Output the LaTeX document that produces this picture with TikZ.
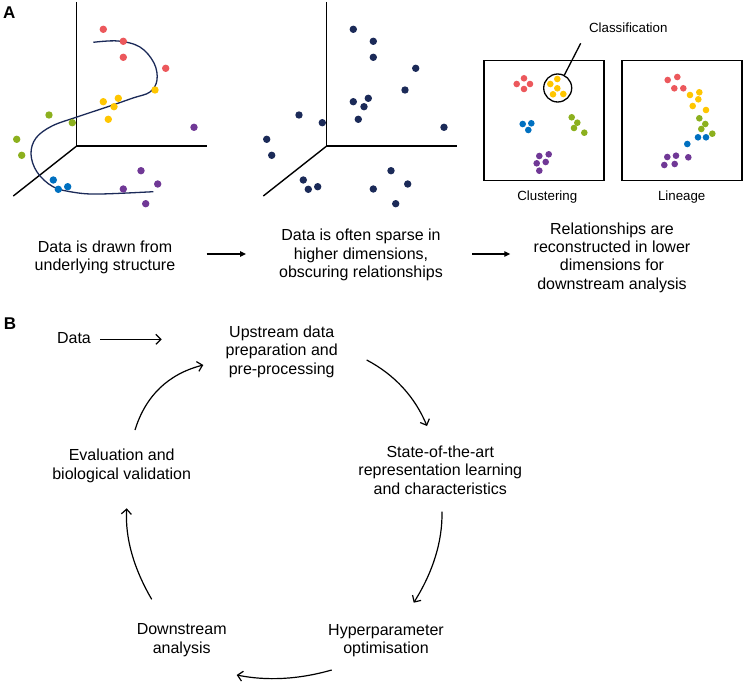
\documentclass[tikz,border=0pt]{standalone}
\usepackage{fontspec}
\setmainfont{Liberation Sans}
\usetikzlibrary{arrows.meta,calc}
\definecolor{cred}{RGB}{236,88,92}
\definecolor{cyellow}{RGB}{255,198,0}
\definecolor{cgreen}{RGB}{140,176,30}
\definecolor{cblue}{RGB}{0,112,192}
\definecolor{cpurple}{RGB}{112,56,150}
\definecolor{cnavy}{RGB}{27,42,88}
\newcommand\scatterdots[6]{%
  \foreach \x/\y in {103.3/29.3,123.3/41.3,123.3/57.3,165.7/68.3} \fill[#1] (\x,\y) circle[radius=#6];
  \foreach \x/\y in {155/90,103.3/101.7,118.3/98.3,114/106.7,108.3/119.3} \fill[#2] (\x,\y) circle[radius=#6];
  \foreach \x/\y in {49/115,72.3/122.7,16.7/139.3,21.7/155.3} \fill[#3] (\x,\y) circle[radius=#6];
  \foreach \x/\y in {53.3/180,58.3/189.3,67.7/186.7} \fill[#4] (\x,\y) circle[radius=#6];
  \foreach \x/\y in {194/127.3,141/170.7,157.7/184,123.3/189,145.7/203.7} \fill[#5] (\x,\y) circle[radius=#6];
}
\begin{document}
\begin{tikzpicture}[x=1pt,y=-1pt,
  axisline/.style={line width=1.4pt,black},
  lbl/.style={font=\fontsize{16}{18.4}\selectfont,align=center,inner sep=0pt},
  smalllbl/.style={font=\fontsize{13.3}{15}\selectfont,inner sep=0pt},
  panellbl/.style={font=\fontsize{17}{20}\selectfont\bfseries,inner sep=0pt},
  cyclearrow/.style={line width=1.2pt,-{Straight Barb[length=5pt,width=10pt]}},
  textarrow/.style={line width=1.3pt,-{Triangle[length=6pt,width=5.5pt]}},
  framebox/.style={draw,line width=1.5pt,minimum width=120pt,minimum height=120pt,inner sep=0pt}]
\useasboundingbox (0,0) rectangle (744,682);
\fill[white] (0,0) rectangle (744,682);

% ---------- Panel A ----------
\node[panellbl] (labA) at (9.2,12.5) {A};

% left 3D plot
\coordinate (o1) at (76.7,146);
\coordinate (o1t) at (76.7,2);
\coordinate (o1r) at (207,146);
\coordinate (o1d) at (13.3,196);
\draw[axisline] (o1t) -- (o1) -- (o1r);
\draw[axisline] (o1) -- (o1d);
\draw[cnavy,line width=1.3pt] plot[smooth,tension=0.6] coordinates {(93.3,42.3) (118,41) (140,47) (154,63) (157,80) (150,92) (133,98) (110,106) (77,117) (52,126) (36,138) (31,154) (37,172) (53,186.7) (75,192.5) (100,194) (153.3,191.7)};
\scatterdots{cred}{cyellow}{cgreen}{cblue}{cpurple}{3.7pt}

% middle 3D plot
\begin{scope}[xshift=250pt]
\coordinate (o2) at (76.7,146);
\coordinate (o2t) at (76.7,2);
\coordinate (o2r) at (207,146);
\coordinate (o2d) at (13.3,196);
\draw[axisline] (o2t) -- (o2) -- (o2r);
\draw[axisline] (o2) -- (o2d);
\scatterdots{cnavy}{cnavy}{cnavy}{cnavy}{cnavy}{3.7pt}
\end{scope}

% clustering box
\node[framebox] (boxclu) at (544,120.7) {};
\foreach \x/\y in {516.7/84,524/78.3,524/89,530/84} \fill[cred] (\x,\y) circle[radius=3.3pt];
\foreach \x/\y in {550.3/84,557.3/79,557.3/88.3,553/94.3,563.3/94} \fill[cyellow] (\x,\y) circle[radius=3.3pt];
\foreach \x/\y in {522.7/124,531.3/123.3,528.3/130} \fill[cblue] (\x,\y) circle[radius=3.3pt];
\foreach \x/\y in {571.7/117.3,577.3/122.7,574/128,584.3/132.7} \fill[cgreen] (\x,\y) circle[radius=3.3pt];
\foreach \x/\y in {539.3/156,548.7/154.3,536.7/163.3,545.7/162,539.3/170.7} \fill[cpurple] (\x,\y) circle[radius=3.3pt];
\node[draw,circle,line width=1.3pt,minimum size=28pt,inner sep=0pt] (classcirc) at (557.7,88) {};
\node[smalllbl] (classlbl) at (628.3,27.7) {Classification};
\coordinate (classend) at (580.7,43.3);
\draw[line width=1.3pt] (classcirc) -- (classend);
\node[smalllbl] (clulbl) at (547.3,197.3) {Clustering};

% lineage box
\node[framebox] (boxlin) at (681.85,120.7) {};
\foreach \x/\y in {667.7/80,677.3/77,674.3/88.3,683.3/88.3} \fill[cred] (\x,\y) circle[radius=3.3pt];
\foreach \x/\y in {690/95,699.3/92.3,698.3/99.3,692.7/106,706/110} \fill[cyellow] (\x,\y) circle[radius=3.3pt];
\foreach \x/\y in {699.3/118.3,705.3/124,701.3/129,712.3/133.7} \fill[cgreen] (\x,\y) circle[radius=3.3pt];
\foreach \x/\y in {698/137.3,706/137.3,687.3/144} \fill[cblue] (\x,\y) circle[radius=3.3pt];
\foreach \x/\y in {667.3/157,676/155.7,688.3/157.3,664.3/165,674.7/164} \fill[cpurple] (\x,\y) circle[radius=3.3pt];
\node[smalllbl] (linlbl) at (681.7,196.7) {Lineage};

% text row
\node[lbl] (txt1) at (105,257.5) {Data is drawn from\\underlying structure};
\node[lbl] (txt2) at (361,255) {Data is often sparse in\\higher dimensions,\\obscuring relationships};
\node[lbl] (txt3) at (612,257.5) {Relationships are\\reconstructed in lower\\dimensions for\\downstream analysis};
\coordinate (ta1s) at (206.7,254);
\coordinate (ta1e) at (246,254);
\coordinate (ta2s) at (472,254);
\coordinate (ta2e) at (510.3,254);
\draw[textarrow] (ta1s) -- (ta1e);
\draw[textarrow] (ta2s) -- (ta2e);

% ---------- Panel B ----------
\node[panellbl] (labB) at (10,324) {B};
\node[lbl] (data) at (74,338.3) {Data};
\node[lbl] (upstream) at (281.7,351.7) {Upstream data\\preparation and\\pre-processing};
\node[lbl] (state) at (440.3,470) {State-of-the-art\\representation learning\\and characteristics};
\node[lbl] (hyper) at (386,640.5) {Hyperparameter\\optimisation};
\node[lbl] (down) at (181.7,640) {Downstream\\analysis};
\node[lbl] (evalv) at (121.7,465.8) {Evaluation and\\biological validation};

\coordinate (b0s) at (100,339.3);
\coordinate (b0e) at (161.7,339.3);
\draw[cyclearrow] (b0s) -- (b0e);

\coordinate (b1s) at (366.7,360);
\coordinate (b1e) at (427,426);
\draw[cyclearrow] (b1s) .. controls (394.7,374.8) and (414.8,396.8) .. (b1e);

\coordinate (b2s) at (442,511.7);
\coordinate (b2e) at (413.7,602.7);
\draw[cyclearrow] (b2s) .. controls (442.5,541.4) and (433.1,571.7) .. (b2e);

\coordinate (b3s) at (331.7,670);
\coordinate (b3e) at (236.7,675);
\draw[cyclearrow] (b3s) .. controls (298.8,679.4) and (267.2,681.1) .. (b3e);

\coordinate (b4s) at (151.7,599.3);
\coordinate (b4e) at (126.7,508.3);
\draw[cyclearrow] (b4s) .. controls (133.4,567.9) and (125,537.6) .. (b4e);

\coordinate (b5s) at (135,430);
\coordinate (b5e) at (203.3,365);
\draw[cyclearrow] (b5s) .. controls (145.6,395.7) and (168.3,374) .. (b5e);
\end{tikzpicture}
\end{document}
